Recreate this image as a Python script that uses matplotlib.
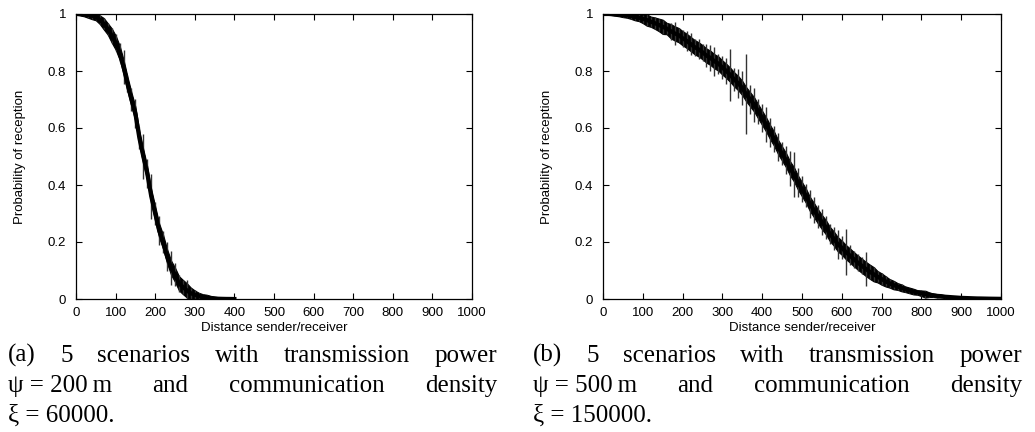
import numpy as np
import matplotlib
matplotlib.use("Agg")
import matplotlib.pyplot as plt

# distance sender/receiver (m)
dist_a = np.arange(0, 410, 10)
dist_b = np.arange(0, 1010, 10)

# mean probability of reception
prob_a = [1.0, 1.0, 0.998, 0.997, 0.994, 0.99, 0.98, 0.966, 0.948, 0.925,
          0.90, 0.865, 0.815, 0.755, 0.70, 0.65, 0.565, 0.50, 0.44, 0.36,
          0.30, 0.24, 0.20, 0.15, 0.11, 0.085, 0.055, 0.042, 0.03, 0.02,
          0.015, 0.01, 0.007, 0.005, 0.003, 0.002, 0.001, 0.0006, 0.0003, 0.0002, 0.0]
err_a = [0.003, 0.005, 0.006, 0.01, 0.012, 0.012, 0.015, 0.02, 0.02, 0.025,
         0.03, 0.035, 0.06, 0.03, 0.04, 0.05, 0.04, 0.08, 0.05, 0.08,
         0.04, 0.05, 0.04, 0.05, 0.06, 0.04, 0.03, 0.025, 0.035, 0.02,
         0.015, 0.012, 0.01, 0.01, 0.008, 0.006, 0.005, 0.004, 0.003, 0.003, 0.002]

prob_b = [1.0, 1.0, 1.0, 0.999, 0.998, 0.997, 0.995, 0.993, 0.99, 0.987,
          0.983, 0.979, 0.973, 0.968, 0.962, 0.955, 0.949, 0.94, 0.932, 0.926,
          0.915, 0.906, 0.895, 0.884, 0.876, 0.866, 0.854, 0.846, 0.834, 0.826,
          0.812, 0.80, 0.786, 0.77, 0.757, 0.74, 0.718, 0.70, 0.682, 0.658,
          0.635, 0.612, 0.585, 0.562, 0.533, 0.51, 0.487, 0.458, 0.437, 0.408,
          0.385, 0.362, 0.333, 0.312, 0.29, 0.27, 0.252, 0.228, 0.212, 0.192,
          0.18, 0.165, 0.153, 0.14, 0.128, 0.117, 0.106, 0.096, 0.087, 0.078,
          0.07, 0.062, 0.055, 0.049, 0.044, 0.039, 0.034, 0.03, 0.026, 0.023,
          0.02, 0.017, 0.015, 0.013, 0.011, 0.01, 0.008, 0.007, 0.006, 0.005,
          0.004, 0.0035, 0.003, 0.0025, 0.002, 0.0018, 0.0015, 0.0012, 0.001, 0.0008, 0.0006]
err_b = [0.002, 0.003, 0.004, 0.005, 0.006, 0.008, 0.008, 0.01, 0.012, 0.012,
         0.015, 0.02, 0.018, 0.02, 0.022, 0.025, 0.02, 0.03, 0.04, 0.025,
         0.03, 0.035, 0.04, 0.03, 0.035, 0.03, 0.04, 0.045, 0.05, 0.035,
         0.04, 0.045, 0.09, 0.04, 0.05, 0.06, 0.14, 0.05, 0.06, 0.045,
         0.05, 0.06, 0.05, 0.045, 0.05, 0.04, 0.05, 0.06, 0.08, 0.05,
         0.045, 0.04, 0.05, 0.045, 0.04, 0.045, 0.04, 0.035, 0.04, 0.05,
         0.04, 0.08, 0.035, 0.03, 0.03, 0.03, 0.06, 0.025, 0.025, 0.02,
         0.02, 0.018, 0.015, 0.015, 0.012, 0.012, 0.01, 0.01, 0.01, 0.008,
         0.01, 0.012, 0.008, 0.006, 0.006, 0.005, 0.005, 0.004, 0.004, 0.004,
         0.003, 0.003, 0.003, 0.002, 0.002, 0.003, 0.002, 0.002, 0.001, 0.001, 0.001]

x_ticks = list(range(0, 1001, 100))
y_ticks = [0, 0.2, 0.4, 0.6, 0.8, 1]
y_ticklabels = ["0", "0.2", "0.4", "0.6", "0.8", "1"]

caption_a = [["(a)", "5", "scenarios", "with", "transmission", "power"],
             ["ψ = 200\u2009m", "and", "communication", "density"],
             ["ξ = 60000."]]
caption_b = [["(b)", "5", "scenarios", "with", "transmission", "power"],
             ["ψ = 500\u2009m", "and", "communication", "density"],
             ["ξ = 150000."]]

W, H = 1035, 432
fig = plt.figure(figsize=(W / 100, H / 100), dpi=100)
sans = ["Liberation Sans", "DejaVu Sans"]
serif = ["Liberation Serif", "DejaVu Serif"]


def panel(rect, x, y, e):
    ax = fig.add_axes(rect)
    y = np.array(y)
    e = np.array(e)
    core = np.minimum(e, 0.025)
    # dense band of overlapping error bars
    ax.fill_between(x, np.clip(y - core, 0, 1), np.clip(y + core, 0, 1.01),
                    color="black", lw=0.8)
    ax.errorbar(x, y, yerr=e, fmt="-", color="black", lw=3,
                ecolor="#333333", elinewidth=1.0, capsize=0)
    ax.set_xlim(0, 1000)
    ax.set_ylim(0, 1)
    ax.set_xticks(x_ticks)
    ax.set_yticks(y_ticks)
    ax.set_yticklabels(y_ticklabels)
    ax.tick_params(direction="in", top=True, right=True, length=4,
                   width=0.8, labelsize=9.5, pad=6)
    ax.tick_params(axis="y", pad=7)
    for lab in ax.get_xticklabels() + ax.get_yticklabels():
        lab.set_family(sans)
    for s in ax.spines.values():
        s.set_linewidth(0.9)
    ax.set_xlabel("Distance sender/receiver", family=sans, fontsize=9.5, labelpad=2)
    ax.set_ylabel("Probability of reception", family=sans, fontsize=9.5, va="center")
    ax.yaxis.set_label_coords(-56 / (rect[2] * W), 0.5)
    return ax


panel([76 / W, 1 - 299 / H, 396 / W, 285 / H], dist_a, prob_a, err_a)
panel([603 / W, 1 - 299 / H, 398 / W, 285 / H], dist_b, prob_b, err_b)

renderer = fig.canvas.get_renderer()


def justified(lines, x0, x1):
    baselines = [362, 392, 422]
    for i, words in enumerate(lines):
        y = 1 - baselines[i] / H
        ts = [fig.text(0, y, w, family=serif, fontsize=18, va="baseline")
              for w in words]
        ws = [t.get_window_extent(renderer).width / W for t in ts]
        if len(words) > 1 and i < len(lines) - 1:
            gap = ((x1 - x0) / W - sum(ws)) / (len(words) - 1)
        else:
            gap = 0
        xx = x0 / W
        for t, w in zip(ts, ws):
            t.set_x(xx)
            xx += w + gap


justified(caption_a, 8, 497)
justified(caption_b, 533, 1022)

fig.savefig("out.png", dpi=100)
